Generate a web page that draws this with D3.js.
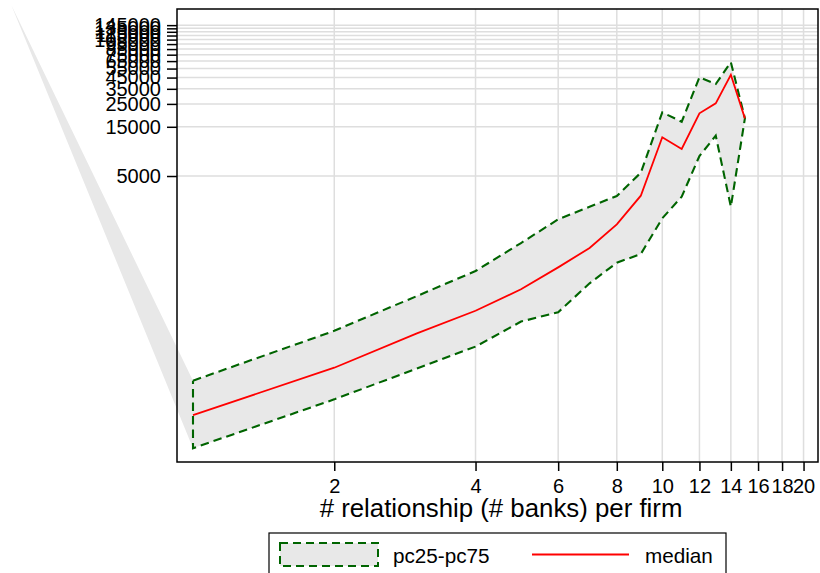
<!DOCTYPE html>
<html>
<head>
<meta charset="utf-8">
<script src="https://cdn.jsdelivr.net/npm/d3@7"></script>
<style>
  html, body { margin: 0; padding: 0; background: #fff; }
  svg { display: block; font-family: "Liberation Sans", Arial, Helvetica, sans-serif; }
</style>
</head>
<body>
<svg id="chart" width="820" height="573"></svg>
<script>
// Number of bank relationships per firm
const banks = [1, 2, 3, 4, 5, 6, 7, 8, 9, 10, 11, 12, 13, 14, 15];
// 75th percentile, median and 25th percentile per group
const pc75 = [51.9, 158, 343, 600, 1120, 1902, 2520, 3200, 5380, 20700, 16800, 45300, 39000, 63300, 18100];
const median = [24.1, 69.3, 149, 247, 399, 651, 1003, 1701, 3222, 11860, 9140, 20270, 25340, 47960, 18100];
const pc25 = [11.5, 34.2, 68.2, 111, 194, 239, 456, 722, 877, 1945, 3150, 7810, 12300, 2520, 18100];
// Extra vertex the shaded polygon is opened from
const bandOrigin = { banks: 0.41, value: 227000 };

const xTicks = [2, 4, 6, 8, 10, 12, 14, 16, 18, 20];
const yTicks = [5000, 15000, 25000, 35000, 45000, 55000, 65000, 75000, 85000, 95000, 105000, 115000, 125000, 135000, 145000];

const xLabel = "# relationship (# banks) per firm";
const legendLabels = ["pc25-pc75", "median"];

const svg = d3.select("#chart");
const plot = { left: 177, right: 818, top: 9, bottom: 462 };

const x = d3.scaleLog().domain([0.9245, 21.47]).range([plot.left, plot.right]);
const y = d3.scaleLog().domain([8.45, 207900]).range([plot.bottom, plot.top]);

const gridColor = "#dedede";
const bandFill = "#e8e8e8";
const green = "#006400";
const red = "#ff0000";

// grid lines
svg.append("g").selectAll("line").data(xTicks).join("line")
  .attr("x1", d => x(d)).attr("x2", d => x(d))
  .attr("y1", plot.top).attr("y2", plot.bottom)
  .attr("stroke", gridColor).attr("stroke-width", 1.5);
svg.append("g").selectAll("line").data(yTicks).join("line")
  .attr("x1", plot.left).attr("x2", plot.right)
  .attr("y1", d => y(d)).attr("y2", d => y(d))
  .attr("stroke", gridColor).attr("stroke-width", 1.5);

// shaded interquartile band
const upper = banks.map((b, i) => [x(b), y(pc75[i])]);
const lower = banks.map((b, i) => [x(b), y(pc25[i])]);
const bandPoly = [[x(bandOrigin.banks), y(bandOrigin.value)], ...upper, ...lower.slice().reverse()];
svg.append("path")
  .attr("d", d3.line()(bandPoly) + "Z")
  .attr("fill", bandFill).attr("stroke", "none");

// dashed outline of the band
const outline = [...upper, ...lower.slice().reverse(), upper[0]];
svg.append("path")
  .attr("d", d3.line()(outline))
  .attr("fill", "none").attr("stroke", green)
  .attr("stroke-width", 2.1).attr("stroke-dasharray", "8.5,5")
  .attr("stroke-linejoin", "miter");

// median line
svg.append("path")
  .datum(banks.map((b, i) => [b, median[i]]))
  .attr("d", d3.line().x(d => x(d[0])).y(d => y(d[1])))
  .attr("fill", "none").attr("stroke", red).attr("stroke-width", 1.8);

// frame
svg.append("rect")
  .attr("x", plot.left).attr("y", plot.top)
  .attr("width", plot.right - plot.left).attr("height", plot.bottom - plot.top)
  .attr("fill", "none").attr("stroke", "#000").attr("stroke-width", 1.5);

// axes
const xAxis = d3.axisBottom(x).tickValues(xTicks).tickFormat(d3.format("d"))
  .tickSizeInner(9).tickSizeOuter(0).tickPadding(8);
const gx = svg.append("g").attr("transform", `translate(0,${plot.bottom})`).call(xAxis);
gx.select(".domain").remove();
gx.selectAll(".tick line").attr("stroke", "#000").attr("stroke-width", 1.5);
gx.selectAll(".tick text").attr("font-size", 20).attr("fill", "#000")
  .attr("font-family", "Liberation Sans, Arial, sans-serif");

const yAxis = d3.axisLeft(y).tickValues(yTicks).tickFormat(d3.format("d"))
  .tickSizeInner(10).tickSizeOuter(0).tickPadding(6);
const gy = svg.append("g").attr("transform", `translate(${plot.left},0)`).call(yAxis);
gy.select(".domain").remove();
gy.selectAll(".tick line").attr("stroke", "#000").attr("stroke-width", 1.5);
gy.selectAll(".tick text").attr("font-size", 20).attr("fill", "#000")
  .attr("font-family", "Liberation Sans, Arial, sans-serif");

// axis title
svg.append("text")
  .attr("x", 501).attr("y", 517)
  .attr("text-anchor", "middle")
  .attr("font-size", 25.8)
  .text(xLabel);

// legend
const lg = svg.append("g");
lg.append("rect").attr("x", 269).attr("y", 533).attr("width", 457).attr("height", 50)
  .attr("fill", "#fff").attr("stroke", "#000").attr("stroke-width", 1.2);
lg.append("rect").attr("x", 280).attr("y", 543).attr("width", 98).attr("height", 23)
  .attr("fill", bandFill).attr("stroke", green).attr("stroke-width", 2)
  .attr("stroke-dasharray", "8,5");
lg.append("text").attr("x", 393).attr("y", 563).attr("font-size", 20.7).text(legendLabels[0]);
lg.append("line").attr("x1", 532).attr("x2", 629).attr("y1", 554.5).attr("y2", 554.5)
  .attr("stroke", red).attr("stroke-width", 1.8);
lg.append("text").attr("x", 645).attr("y", 563).attr("font-size", 20.7).text(legendLabels[1]);
</script>
</body>
</html>
